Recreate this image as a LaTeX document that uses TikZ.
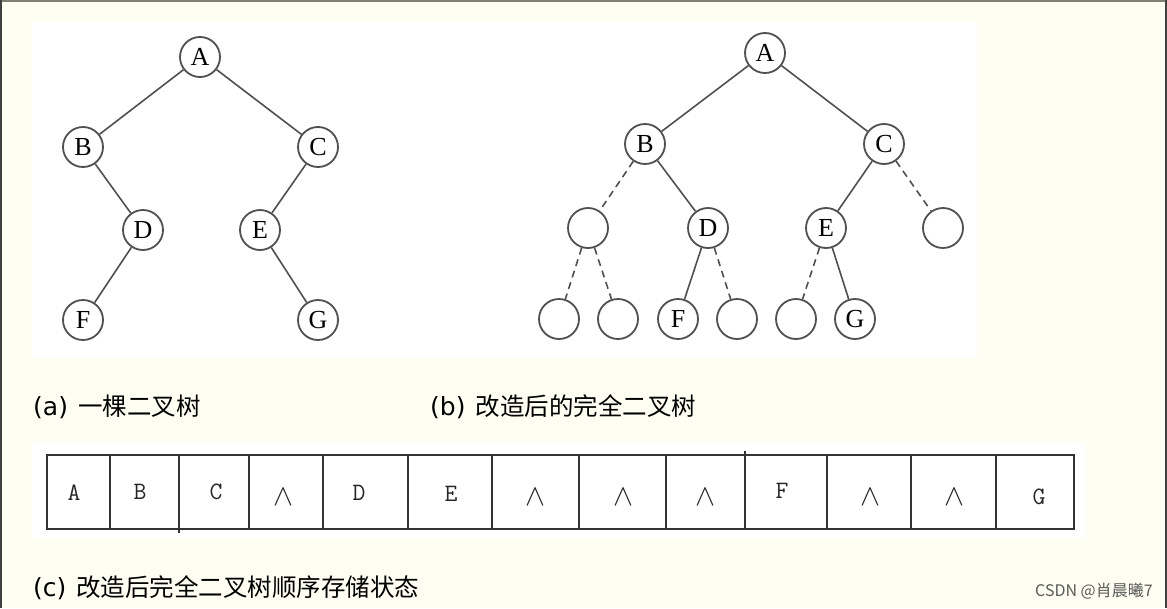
\RequirePackage{fix-cm}
\documentclass[tikz,border=0pt]{standalone}
\usepackage{fontspec}
\newfontfamily\cjk{Noto Sans CJK SC}
\newfontfamily\dejavu{DejaVu Sans}
\newfontfamily\serifl{Liberation Serif}
\newcommand{\capl}[1]{{\dejavu\fontsize{25}{30}\selectfont #1}\hspace{10pt}}
\definecolor{bg}{RGB}{254,254,242}
\definecolor{linegray}{RGB}{80,80,80}
\definecolor{framegray}{RGB}{128,128,112}
\definecolor{wmgray}{RGB}{90,90,90}
\begin{document}
\begin{tikzpicture}[x=1pt,y=-1pt,
  tn/.style={circle, draw=linegray, line width=1.8pt, minimum size=40pt, inner sep=0pt, fill=white,
             font=\serifl\fontsize{26}{26}\selectfont, text=black},
  treeedge/.style={draw=linegray, line width=1.6pt},
  dashedge/.style={treeedge, dash pattern=on 7pt off 5pt},
  arrline/.style={draw=black!80, line width=1.7pt},
  celltext/.style={inner sep=0pt, font=\ttfamily\fontsize{25}{25}\selectfont, text=black!85},
  nulltext/.style={inner sep=0pt, font=\fontsize{30}{30}\selectfont, text=black!85},
  captext/.style={anchor=west, inner sep=0pt, font=\cjk\fontsize{24.5}{30}\selectfont, text=black}]
% background and frame
\fill[bg] (0,0) rectangle (1167,608);
\useasboundingbox (0,0) rectangle (1167,608);
\draw[framegray, line width=2pt] (0,1) -- (1167,1);
\draw[black!75, line width=2pt] (1,0) -- (1,608);
\draw[black!75, line width=2pt] (1166,0) -- (1166,608);
% white panels
\fill[white] (32,22) rectangle (977,358);
\fill[white] (32,443) rectangle (1085,538);

% tree (a)
\node[tn] (aA) at (200,57) {A};
\node[tn] (aB) at (83,147) {B};
\node[tn] (aC) at (318,147) {C};
\node[tn] (aD) at (143,230) {D};
\node[tn] (aE) at (260,230) {E};
\node[tn] (aF) at (83,320) {F};
\node[tn] (aG) at (318,320) {G};
\draw[treeedge] (aA) -- (aB);
\draw[treeedge] (aA) -- (aC);
\draw[treeedge] (aB) -- (aD);
\draw[treeedge] (aC) -- (aE);
\draw[treeedge] (aD) -- (aF);
\draw[treeedge] (aE) -- (aG);

% tree (b)
\node[tn] (bA) at (765,53) {A};
\node[tn] (bB) at (645,144) {B};
\node[tn] (bC) at (884,144) {C};
\node[tn] (bN1) at (588,228) {};
\node[tn] (bD) at (708,228) {D};
\node[tn] (bE) at (826,228) {E};
\node[tn] (bN2) at (943,228) {};
\node[tn] (bL1) at (559,319) {};
\node[tn] (bL2) at (618,319) {};
\node[tn] (bF) at (678,319) {F};
\node[tn] (bL4) at (737,319) {};
\node[tn] (bL5) at (796,319) {};
\node[tn] (bG) at (855,319) {G};
\draw[treeedge] (bA) -- (bB);
\draw[treeedge] (bA) -- (bC);
\draw[dashedge] (bB) -- (bN1);
\draw[treeedge] (bB) -- (bD);
\draw[treeedge] (bC) -- (bE);
\draw[dashedge] (bC) -- (bN2);
\draw[dashedge] (bN1) -- (bL1);
\draw[dashedge] (bN1) -- (bL2);
\draw[treeedge] (bD) -- (bF);
\draw[dashedge] (bD) -- (bL4);
\draw[dashedge] (bE) -- (bL5);
\draw[treeedge] (bE) -- (bG);

% captions
\node[captext] (capa) at (33,407) {\capl{(a)}一棵二叉树};
\node[captext] (capb) at (430,407) {\capl{(b)}改造后的完全二叉树};
\node[captext] (capc) at (33,588) {\capl{(c)}改造后完全二叉树顺序存储状态};

% array
\draw[arrline] (47,455) rectangle (1074,529);
\foreach \xx in {110,249,323,408,492,579,666,827,911,996}{
  \draw[arrline] (\xx,455) -- (\xx,529);
}
\draw[arrline] (179,455) -- (179,533);
\draw[arrline] (745,451) -- (745,529);
\node[celltext] (c1) at (74,493) {A};
\node[celltext] (c2) at (140,492) {B};
\node[celltext] (c3) at (216,492) {C};
\node[nulltext] (c4) at (283,497) {$\wedge$};
\node[celltext] (c5) at (359,493) {D};
\node[celltext] (c6) at (451,494) {E};
\node[nulltext] (c7) at (535,497) {$\wedge$};
\node[nulltext] (c8) at (623,497) {$\wedge$};
\node[nulltext] (c9) at (705,497) {$\wedge$};
\node[celltext] (c10) at (782,491) {F};
\node[nulltext] (c11) at (870,497) {$\wedge$};
\node[nulltext] (c12) at (954,497) {$\wedge$};
\node[celltext] (c13) at (1039,497) {G};

% watermark
\node[anchor=west, inner sep=0pt, font=\cjk\fontsize{16}{19}\selectfont, text=wmgray] (wm) at (1035,591) {CSDN @肖晨曦7};
\end{tikzpicture}
\end{document}
